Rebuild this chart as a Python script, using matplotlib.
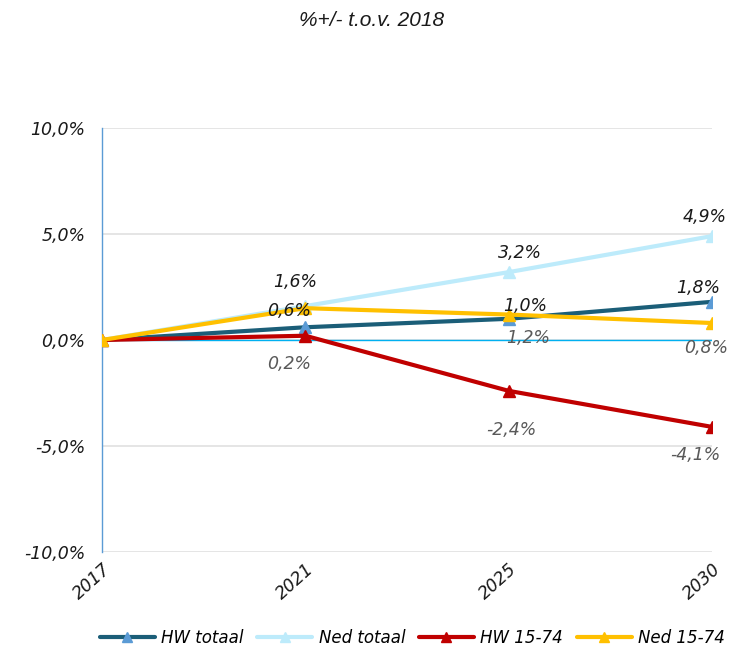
import matplotlib
matplotlib.use("Agg")
import matplotlib.pyplot as plt
from matplotlib.ticker import FuncFormatter

years = ["2017", "2021", "2025", "2030"]
hw_totaal = [0.0, 0.6, 1.0, 1.8]
ned_totaal = [0.0, 1.6, 3.2, 4.9]
hw_1574 = [0.0, 0.2, -2.4, -4.1]
ned_1574 = [0.0, 1.5, 1.2, 0.8]

# name, values, line colour, marker colour
series = [
    ("HW totaal", hw_totaal, "#1b5e78", "#5b9bd5"),
    ("Ned totaal", ned_totaal, "#bdebfb", "#bdebfb"),
    ("HW 15-74", hw_1574, "#c00000", "#c00000"),
    ("Ned 15-74", ned_1574, "#ffc000", "#ffc000"),
]

# value labels: values, index, dx, dy (points), colour
labels = [
    (ned_totaal, 1, -7, 17, "#1a1a1a"),
    (hw_totaal, 1, -12, 12, "#1a1a1a"),
    (hw_1574, 1, -12, -20, "#595959"),
    (ned_totaal, 2, 8, 14, "#1a1a1a"),
    (hw_totaal, 2, 12, 9, "#1a1a1a"),
    (ned_1574, 2, 14, -17, "#595959"),
    (hw_1574, 2, 2, -28, "#595959"),
    (ned_totaal, 3, -5, 14, "#1a1a1a"),
    (hw_totaal, 3, -10, 10, "#1a1a1a"),
    (ned_1574, 3, -4, -18, "#595959"),
    (hw_1574, 3, -12, -20, "#595959"),
]


def pct(v, _=None):
    return f"{v:.1f}%".replace(".", ",")


fig = plt.figure(figsize=(7.43, 6.5), dpi=100)
ax = fig.add_axes([0.1373, 0.1508, 0.821, 0.6523])

x = range(len(years))
ax.axhline(0, color="#00b0f0", lw=1.0, zorder=1)
for name, vals, lc, mc in series:
    ax.plot(x, vals, color=lc, lw=3, marker="^", markersize=9,
            markerfacecolor=mc, markeredgecolor=mc, label=name, zorder=3,
            solid_capstyle="round")

for vals, i, dx, dy, c in labels:
    ax.annotate(pct(vals[i]), (i, vals[i]), xytext=(dx, dy),
                textcoords="offset points", ha="center", va="center",
                fontsize=12.5, style="italic", color=c, zorder=4)

ax.set_xlim(0, 3)
ax.set_ylim(-10, 10)
ax.set_yticks([-10, -5, 0, 5, 10])
ax.yaxis.set_major_formatter(FuncFormatter(pct))
ax.set_xticks(list(x))
ax.set_xticklabels(years, rotation=42, ha="right", rotation_mode="anchor")
for t in ax.get_xticklabels() + ax.get_yticklabels():
    t.set_fontstyle("italic")
    t.set_fontsize(12.5)
    t.set_color("#1a1a1a")
ax.tick_params(axis="y", length=0, pad=12)
ax.tick_params(axis="x", length=0, pad=6)

ax.grid(axis="y", color="#e0e0e0", lw=1.2, zorder=0)
for s in ["top", "right", "bottom"]:
    ax.spines[s].set_visible(False)
ax.spines["left"].set_color("#5b9bd5")
ax.spines["left"].set_linewidth(1.0)
ax.set_axisbelow(True)

fig.text(0.5, 0.968, "%+/- t.o.v. 2018", ha="center", va="center",
         fontsize=15, style="italic", family="Liberation Sans",
         color="#1a1a1a")

leg = fig.legend(loc="center", bbox_to_anchor=(0.555, 0.018), ncol=4,
                 frameon=False, fontsize=12, handlelength=3.3,
                 handletextpad=0.4, columnspacing=0.8, markerscale=0.75)
for t in leg.get_texts():
    t.set_fontstyle("italic")

fig.savefig("out.png", dpi=100)
